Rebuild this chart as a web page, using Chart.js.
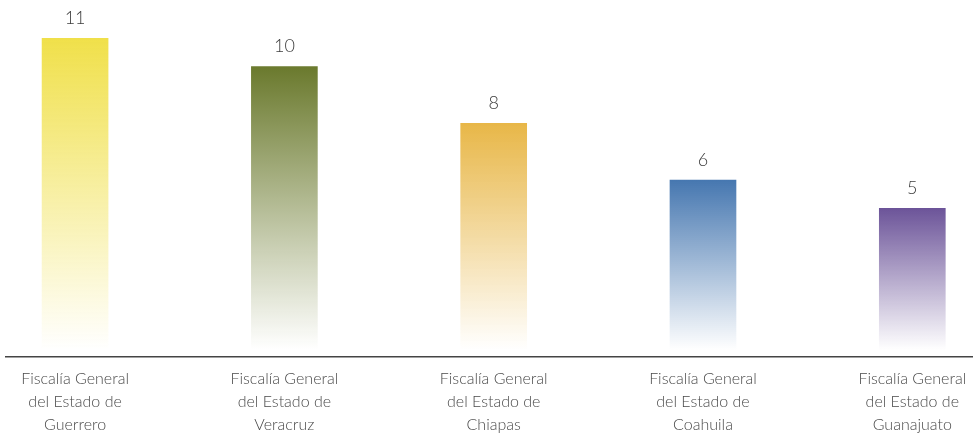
<!DOCTYPE html>
<html>
<head>
<meta charset="utf-8">
<script src="https://cdn.jsdelivr.net/npm/chart.js@4"></script>
<style>
  html, body { margin: 0; padding: 0; background: #fff; }
  #wrap { width: 973px; height: 434px; }
</style>
</head>
<body>
<div id="wrap"><canvas id="fiscaliasChart"></canvas></div>
<script>
// Data
const categories = [
    ['Fiscalía General', 'del Estado de', 'Guerrero'],
    ['Fiscalía General', 'del Estado de', 'Veracruz'],
    ['Fiscalía General', 'del Estado de', 'Chiapas'],
    ['Fiscalía General', 'del Estado de', 'Coahuila'],
    ['Fiscalía General', 'del Estado de', 'Guanajuato']
];
const values = [11, 10, 8, 6, 5];
const barColors = ['#f0e04a', '#6b7a2e', '#e8b748', '#4677b0', '#6c5499'];

function fade(hex) {
    const r = parseInt(hex.slice(1, 3), 16);
    const g = parseInt(hex.slice(3, 5), 16);
    const b = parseInt(hex.slice(5, 7), 16);
    return 'rgba(' + r + ',' + g + ',' + b + ',0)';
}

// value labels above each bar
const valueLabels = {
    id: 'valueLabels',
    afterDatasetsDraw(chart) {
        const ctx = chart.ctx;
        const meta = chart.getDatasetMeta(0);
        ctx.save();
        ctx.font = '300 18px Lato, "Open Sans", sans-serif';
        ctx.fillStyle = '#3c3c3c';
        ctx.textAlign = 'center';
        ctx.textBaseline = 'bottom';
        meta.data.forEach((bar, i) => {
            ctx.fillText(values[i], bar.x, bar.y - 11);
        });
        ctx.restore();
    }
};

const ctx = document.getElementById('fiscaliasChart');
new Chart(ctx, {
    type: 'bar',
    data: {
        datasets: [{
            data: values.map((v, i) => ({ x: i, y: v })),
            backgroundColor: function(context) {
                const chart = context.chart;
                if (!chart.chartArea) return barColors[context.dataIndex];
                const i = context.dataIndex;
                const yScale = chart.scales.y;
                const top = yScale.getPixelForValue(values[i]);
                const bottom = yScale.getPixelForValue(0);
                const g = chart.ctx.createLinearGradient(0, top, 0, bottom);
                g.addColorStop(0, barColors[i]);
                g.addColorStop(1, fade(barColors[i]));
                return g;
            },
            borderWidth: 0,
            barThickness: 66
        }]
    },
    options: {
        responsive: true,
        maintainAspectRatio: false,
        animation: false,
        layout: {
            padding: { left: 6, right: 0, top: 10, bottom: 0 }
        },
        plugins: {
            legend: { display: false },
            tooltip: { enabled: false }
        },
        scales: {
            x: {
                type: 'linear',
                offset: false,
                min: -0.33,
                max: 4.29,
                grid: { display: false, drawTicks: false },
                border: { display: true, color: '#444', width: 1.5 },
                afterBuildTicks: function(scale) {
                    scale.ticks = categories.map((c, i) => ({ value: i }));
                },
                afterFit: function(scale) {
                    scale.height = 77;
                    scale.paddingLeft = 0;
                    scale.paddingRight = 0;
                },
                ticks: {
                    autoSkip: false,
                    maxRotation: 0,
                    padding: 10,
                    color: '#4a4a4a',
                    font: { family: 'Lato, "Open Sans", sans-serif', size: 16, weight: 300, lineHeight: 1.44 },
                    callback: function(value) {
                        return categories[value] || '';
                    }
                }
            },
            y: {
                display: false,
                min: -0.25,
                max: 12
            }
        }
    },
    plugins: [valueLabels]
});
</script>
</body>
</html>
